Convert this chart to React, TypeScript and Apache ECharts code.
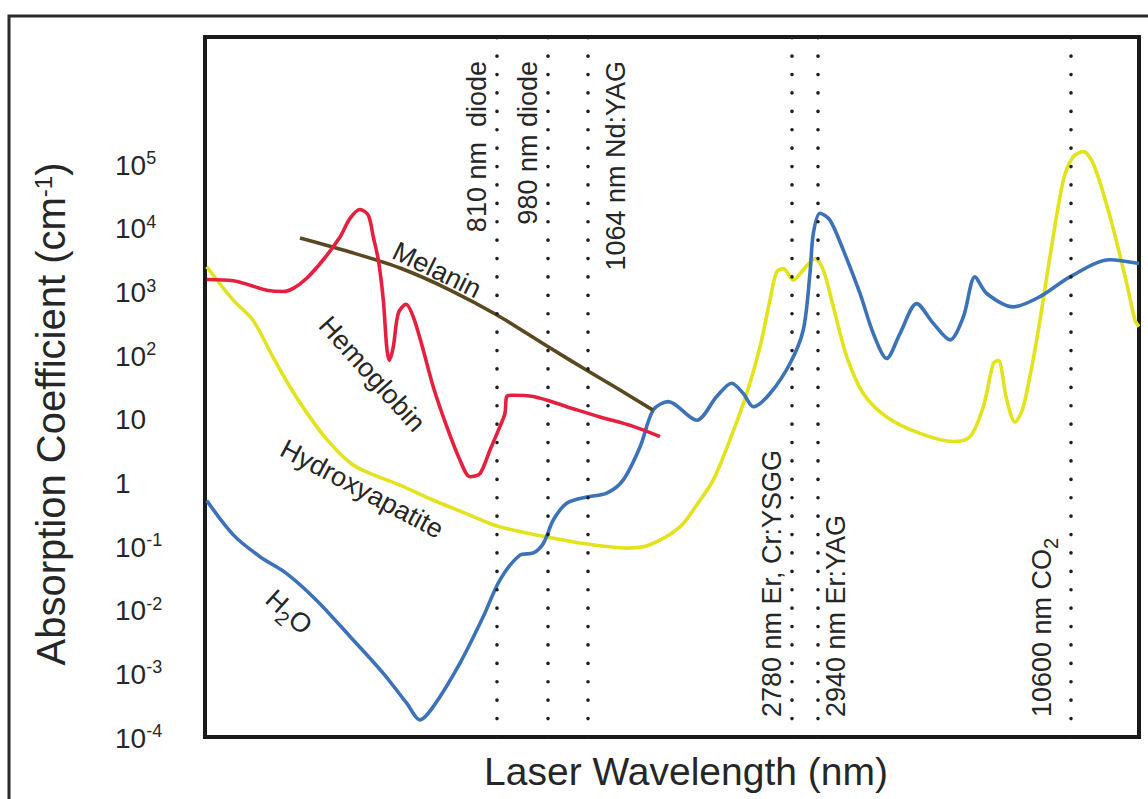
import React, { useEffect, useRef } from "react";
import * as echarts from "echarts";

// x: schematic (non-linear) laser-wavelength position as drawn in the figure; y: absorption coefficient (cm^-1)
const X_MIN = 205;
const X_MAX = 1139;
const Y_MIN = 1e-4;
const Y_MAX = 1e7;

const laserNames = [
  "810 nm  diode",
  "980 nm diode",
  "1064 nm Nd:YAG",
  "2780 nm Er, Cr:YSGG",
  "2940 nm Er:YAG",
  "10600 nm CO{sub|2}",
];
const laserPositions = [497, 547.5, 588, 792, 818, 1071];

const hemoglobin: [number, number][] = [
  [206.7, 1550], [233.3, 1480], [250, 1260], [266.7, 1050], [283.3, 1000], [293.3, 1120],
  [306.7, 1620], [323.3, 3160], [340, 7200], [350, 14100], [360, 19500], [368.3, 15800],
  [373.3, 7200], [378.3, 3160], [383.3, 740], [386.7, 135], [389.3, 83], [393.3, 135],
  [398.3, 457], [406, 630], [413.3, 400], [423.3, 120], [433.3, 31.6], [446.7, 7.6],
  [460, 2.24], [470, 1.23], [480, 1.38], [490, 3.24], [500, 7.6], [505, 12.3],
  [506.7, 22.4], [511.7, 23.4], [533.3, 22.4], [566.7, 15.5], [600, 10.7], [633.3, 7.6],
  [660, 5.25],
];

const melanin: [number, number][] = [
  [300, 6930], [350, 4180], [400, 2340], [450, 1057], [497, 428], [547, 139], [588, 56.4],
  [620, 28.4], [653, 13.7],
];

const hydroxyapatite: [number, number][] = [
  [206.7, 2450], [233, 740], [253, 355], [273, 93], [290, 31.6], [307, 12.3], [327, 4.7],
  [350, 2.04], [367, 1.45], [400, 0.91], [433, 0.53], [467, 0.32], [497, 0.207], [522, 0.167],
  [547, 0.139], [583.3, 0.11], [626.7, 0.093], [650, 0.105], [680, 0.2], [697, 0.45],
  [713.3, 1.1], [730, 4.7], [746.7, 25], [760, 135], [770, 740], [776.7, 2040],
  [783.3, 2290], [793.3, 1510], [803.3, 2190], [815, 3310], [823.3, 2190], [833.3, 575],
  [846.7, 95], [863.3, 25], [886.7, 10.7], [920, 5.9], [953.3, 4.4], [970, 5.25],
  [983.3, 15.5], [993.3, 74], [998.3, 83], [1006.7, 20], [1015, 8.9], [1023.3, 15.5],
  [1036.7, 174], [1050, 3550], [1063.3, 56000], [1073.3, 132000], [1083.3, 158000],
  [1093.3, 102000], [1110, 15100], [1126.7, 1350], [1135, 355], [1139, 282],
];

const water: [number, number][] = [
  [206.7, 0.52], [233.3, 0.15], [260, 0.068], [286.7, 0.037], [316.7, 0.014], [350, 0.0038],
  [383.3, 0.001], [406.7, 0.00034], [420, 0.000186], [433.3, 0.0003], [460, 0.00145],
  [483.3, 0.0078], [500, 0.0295], [520, 0.072], [533.3, 0.078], [543.3, 0.11], [553.3, 0.257],
  [566.7, 0.47], [586.7, 0.59], [606.7, 0.68], [623.3, 1.1], [640, 3.6], [653.3, 13.8],
  [668.3, 18.6], [696.7, 9.5], [716.7, 22.4], [731.7, 36.3], [743.3, 25], [753.3, 15.5],
  [770, 25], [790, 74], [803.3, 251], [810, 1950], [813.3, 8130], [820, 17000], [830, 13200],
  [843.3, 4470], [860, 933], [873.3, 219], [886.7, 89], [900, 219], [916.7, 646], [933.3, 316],
  [950, 174], [963.3, 398], [975, 1700], [986.7, 933], [1013.3, 575], [1040, 832], [1070, 1700],
  [1110, 3160], [1139, 2750],
];

const FONT = "'Liberation Sans', Arial, Helvetica, sans-serif";
const TXT = "#262626";

export default function App() {
  const ref = useRef<HTMLDivElement>(null);

  useEffect(() => {
    if (!ref.current) return;
    const chart = echarts.init(ref.current, null, { renderer: "svg" });

    const lineSeries = (name: string, data: [number, number][], color: string, z: number, extra: any = {}) => ({
      name,
      type: "line",
      data,
      smooth: 0.3,
      showSymbol: false,
      symbol: "none",
      z,
      lineStyle: { color, width: 3.6 },
      itemStyle: { color },
      ...extra,
    });

    chart.setOption({
      animation: false,
      backgroundColor: "#ffffff",
      grid: {
        left: 205,
        top: 37,
        right: 9,
        bottom: 62,
        show: true,
        borderColor: "#1a1a1a",
        borderWidth: 4,
        backgroundColor: "transparent",
      },
      xAxis: {
        type: "value",
        min: X_MIN,
        max: X_MAX,
        show: false,
        splitLine: { show: false },
      },
      yAxis: {
        type: "log",
        logBase: 10,
        min: Y_MIN,
        max: Y_MAX,
        interval: 1,
        axisLine: { show: false },
        axisTick: { show: false },
        splitLine: { show: false },
        axisLabel: {
          align: "left",
          margin: 90,
          formatter: (v: number) => {
            const e = Math.round(Math.log10(v));
            if (e > 5) return "";
            if (e === 0) return "{b|1}";
            if (e === 1) return "{b|10}";
            return `{b|10}{sup|${e}}`;
          },
          rich: {
            b: { fontSize: 28, fontFamily: FONT, color: TXT, padding: [2, 0, 0, 0] },
            sup: { fontSize: 18, fontFamily: FONT, color: TXT, verticalAlign: "top" },
          },
        },
      },
      series: [
        lineSeries("Hydroxyapatite", hydroxyapatite, "#e2e31c", 2),
        lineSeries("H2O", water, "#3b72b8", 3, {
          markLine: {
            silent: true,
            symbol: "none",
            label: { show: false },
            lineStyle: { color: "#1e1e1e", width: 3.6, type: [0.1, 18.3], cap: "round" },
            data: laserPositions.map((x) => ({ xAxis: x })),
          },
        }),
        lineSeries("Melanin", melanin, "#5a4820", 4),
        lineSeries("Hemoglobin", hemoglobin, "#e5203f", 5),
      ],
    });

    const px = (x: number, y: number) => chart.convertToPixel({ gridIndex: 0 }, [x, y]) as number[];
    const topPx = px(X_MIN, Y_MAX)[1];
    const botPx = px(X_MIN, Y_MIN)[1];

    // label layout relative to each laser line: horizontal offset and which end
    const laserLabelDx = [-20, -19.5, 28, -20, 18, -29];
    const laserLabelTop = [true, true, true, false, false, false];

    const subStyle = { fontSize: 20, fontFamily: FONT, fill: TXT, verticalAlign: "bottom", padding: [18, 0, 0, 0] };

    const laserTexts = laserNames.map((name, i) => {
      const x = px(laserPositions[i], 1)[0] + laserLabelDx[i];
      const top = laserLabelTop[i];
      return {
        type: "text",
        x,
        y: top ? topPx + 24 : botPx - 20,
        rotation: Math.PI / 2,
        z: 50,
        style: {
          text: name,
          fontSize: 27,
          fontFamily: FONT,
          fill: TXT,
          align: top ? "right" : "left",
          verticalAlign: "middle",
          rich: { sub: subStyle },
        },
      };
    });

    const curveLabel = (text: string, x: number, y: number, deg: number, rich?: any) => ({
      type: "text",
      x,
      y,
      rotation: (-deg * Math.PI) / 180,
      z: 50,
      style: {
        text,
        fontSize: 27,
        fontFamily: FONT,
        fill: TXT,
        align: "center",
        verticalAlign: "middle",
        rich,
      },
    });

    chart.setOption({
      graphic: [
        {
          type: "rect",
          z: 100,
          shape: { x: 9, y: 16, width: 1200, height: 900 },
          style: { fill: "none", stroke: "#2a2a2a", lineWidth: 3 },
        },
        {
          type: "text",
          x: 51,
          y: 414,
          rotation: Math.PI / 2,
          style: {
            text: "Absorption Coefficient (cm{sup|-1})",
            fontSize: 40,
            fontFamily: FONT,
            fill: TXT,
            align: "center",
            verticalAlign: "middle",
            rich: { sup: { fontSize: 24, fontFamily: FONT, fill: TXT, verticalAlign: "top" } },
          },
        },
        {
          type: "text",
          x: 686,
          y: 771,
          style: {
            text: "Laser Wavelength (nm)",
            fontSize: 39,
            fontFamily: FONT,
            fill: TXT,
            align: "center",
            verticalAlign: "middle",
          },
        },
        curveLabel("Melanin", 437, 270, 26),
        curveLabel("Hemoglobin", 372, 374, 48),
        curveLabel("Hydroxyapatite", 362, 489, 28),
        curveLabel("H{sub|2}O", 289, 612, 42, { sub: subStyle }),
        ...laserTexts,
      ],
    });

    return () => chart.dispose();
  }, []);

  return (
    <div
      ref={ref}
      style={{ position: "absolute", left: 0, top: 0, width: 1148, height: 799, background: "#fff" }}
    />
  );
}
